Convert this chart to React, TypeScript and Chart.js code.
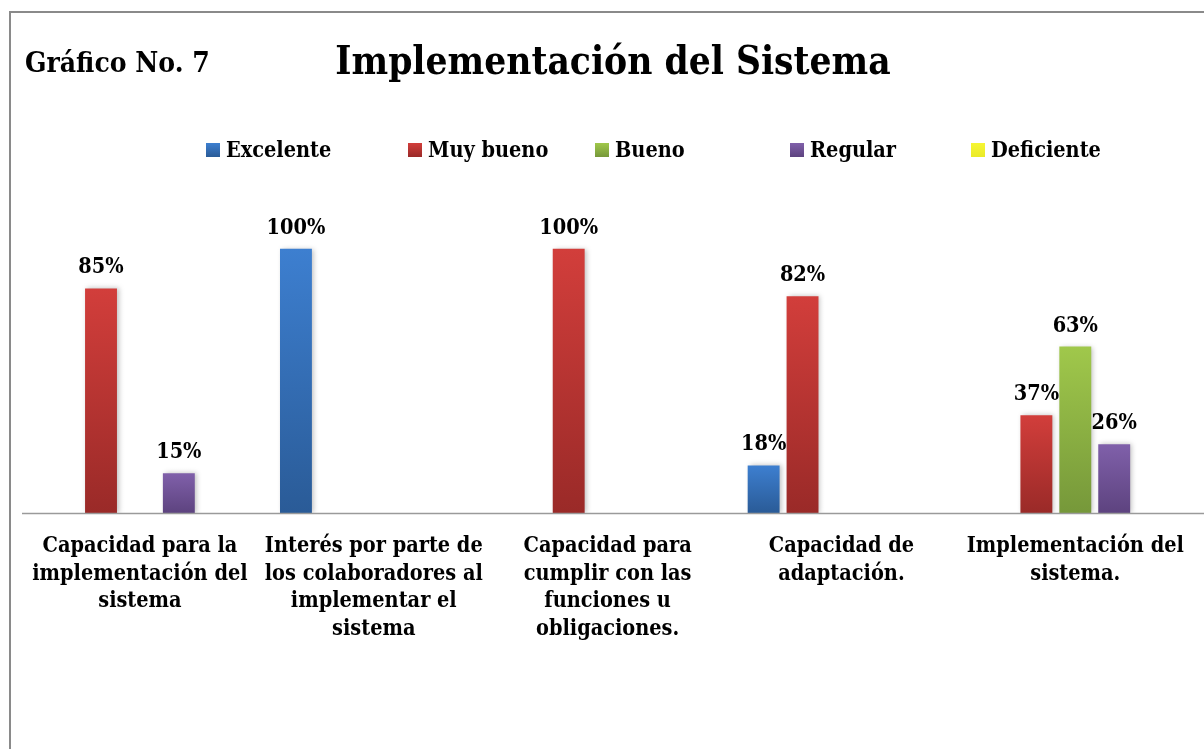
import React, { useEffect, useRef } from 'react';
import { Chart, registerables } from 'chart.js';

Chart.register(...registerables);

// ---- data ----
const categories: string[][] = [
  ['Capacidad para la', 'implementación del', 'sistema'],
  ['Interés por parte de', 'los colaboradores al', 'implementar el', 'sistema'],
  ['Capacidad para', 'cumplir con las', 'funciones u', 'obligaciones.'],
  ['Capacidad de', 'adaptación.'],
  ['Implementación del', 'sistema.'],
];
const seriesNames = ['Excelente', 'Muy bueno', 'Bueno', 'Regular', 'Deficiente'];
const excelente = [0, 100, 0, 18, 0];
const muyBueno = [85, 0, 100, 82, 37];
const bueno = [0, 0, 0, 0, 63];
const regular = [15, 0, 0, 0, 26];
const deficiente = [0, 0, 0, 0, 0];
const seriesValues = [excelente, muyBueno, bueno, regular, deficiente];

const chartTitle = 'Implementación del Sistema';
const chartNumber = 'Gráfico No. 7';

// ---- styles ----
const FONT = '"DejaVu Serif Condensed", "DejaVu Serif", serif';
const topColors = ['#3d7fd0', '#d23e3b', '#a0c84b', '#8060aa', '#f6f633'];
const bottomColors = ['#2a5b97', '#9a2a28', '#76983a', '#5d437f', '#eaea28'];
const midColors = ['#356cb4', '#b93432', '#8cb043', '#6f528f', '#f2f230'];
const legendX = [206, 408, 595, 790, 971];

const decorPlugin = {
  id: 'decor',
  beforeDraw(chart: any) {
    const { ctx, width, height } = chart;
    ctx.save();
    ctx.fillStyle = '#ffffff';
    ctx.fillRect(0, 0, width, height);
    ctx.strokeStyle = '#8a8a8a';
    ctx.lineWidth = 2;
    ctx.strokeRect(10, 12, width + 20, height + 20);
    ctx.restore();
  },
  beforeDatasetDraw(chart: any) {
    const ctx = chart.ctx;
    ctx.save();
    ctx.shadowColor = 'rgba(0,0,0,0.25)';
    ctx.shadowBlur = 5;
    ctx.shadowOffsetX = 2;
    ctx.shadowOffsetY = 0;
  },
  afterDatasetDraw(chart: any) {
    chart.ctx.restore();
  },
  afterDraw(chart: any) {
    const { ctx, chartArea, width } = chart;
    ctx.save();
    // axis line
    ctx.strokeStyle = '#9a9a9a';
    ctx.lineWidth = 1.5;
    ctx.beginPath();
    ctx.moveTo(22, chartArea.bottom + 0.5);
    ctx.lineTo(width, chartArea.bottom + 0.5);
    ctx.stroke();

    // titles
    ctx.fillStyle = '#000';
    ctx.textBaseline = 'alphabetic';
    ctx.textAlign = 'left';
    ctx.font = `bold 28px ${FONT}`;
    ctx.fillText(chartNumber, 25, 72);
    ctx.textAlign = 'center';
    ctx.font = `bold 38.5px ${FONT}`;
    ctx.fillText(chartTitle, 613, 74);

    // legend
    ctx.font = `bold 21.5px ${FONT}`;
    ctx.textAlign = 'left';
    ctx.textBaseline = 'middle';
    chart.data.datasets.forEach((ds: any, i: number) => {
      const x = legendX[i];
      const g = ctx.createLinearGradient(0, 143, 0, 157);
      g.addColorStop(0, topColors[i]);
      g.addColorStop(1, bottomColors[i]);
      ctx.fillStyle = g;
      ctx.fillRect(x, 143, 14, 14);
      ctx.fillStyle = '#000';
      ctx.fillText(ds.label, x + 20, 151);
    });

    // data labels
    ctx.textAlign = 'center';
    ctx.textBaseline = 'alphabetic';
    chart.data.datasets.forEach((ds: any, i: number) => {
      const meta = chart.getDatasetMeta(i);
      meta.data.forEach((bar: any, j: number) => {
        const v = ds.data[j];
        if (!v) return;
        ctx.fillStyle = '#000';
        ctx.fillText(`${v}%`, bar.x, bar.y - 15);
      });
    });
    ctx.restore();
  },
};

export default function App() {
  const ref = useRef<HTMLCanvasElement | null>(null);

  useEffect(() => {
    if (!ref.current) return;
    const datasets = seriesNames.map((name, i) => ({
      label: name,
      data: seriesValues[i],
      backgroundColor: (c: any) => {
        const chart = c.chart;
        if (c.type !== 'data' || !chart.chartArea || !chart.scales?.y) return midColors[i];
        const ys = chart.scales.y;
        const v = c.raw ?? 0;
        const top = ys.getPixelForValue(v);
        const bottom = ys.getPixelForValue(0);
        if (!isFinite(top) || !isFinite(bottom) || bottom - top < 1) return midColors[i];
        const g = chart.ctx.createLinearGradient(0, top, 0, bottom);
        g.addColorStop(0, topColors[i]);
        g.addColorStop(1, bottomColors[i]);
        return g;
      },
      borderWidth: 0,
      categoryPercentage: 0.832,
      barPercentage: 0.82,
    }));

    const chart = new Chart(ref.current, {
      type: 'bar',
      data: { labels: categories as any, datasets },
      options: {
        animation: false,
        responsive: false,
        maintainAspectRatio: false,
        layout: { padding: { top: 196, left: 23, right: 2, bottom: 86 } },
        plugins: {
          legend: { display: false },
          title: { display: false },
          tooltip: { enabled: false },
        },
        scales: {
          x: {
            grid: { display: false, drawTicks: false },
            border: { display: false },
            ticks: {
              autoSkip: false,
              maxRotation: 0,
              minRotation: 0,
              padding: 20,
              color: '#000',
              font: { family: FONT, size: 21.5, weight: 'bold', lineHeight: 1.28 },
            },
          },
          y: {
            display: false,
            min: 0,
            max: 120,
          },
        },
      },
      plugins: [decorPlugin],
    });
    return () => chart.destroy();
  }, []);

  return (
    <div style={{ position: 'fixed', left: 0, top: 0, width: 1204, height: 749, background: '#fff' }}>
      <canvas ref={ref} width={1204} height={749} style={{ width: 1204, height: 749, display: 'block' }} />
    </div>
  );
}
